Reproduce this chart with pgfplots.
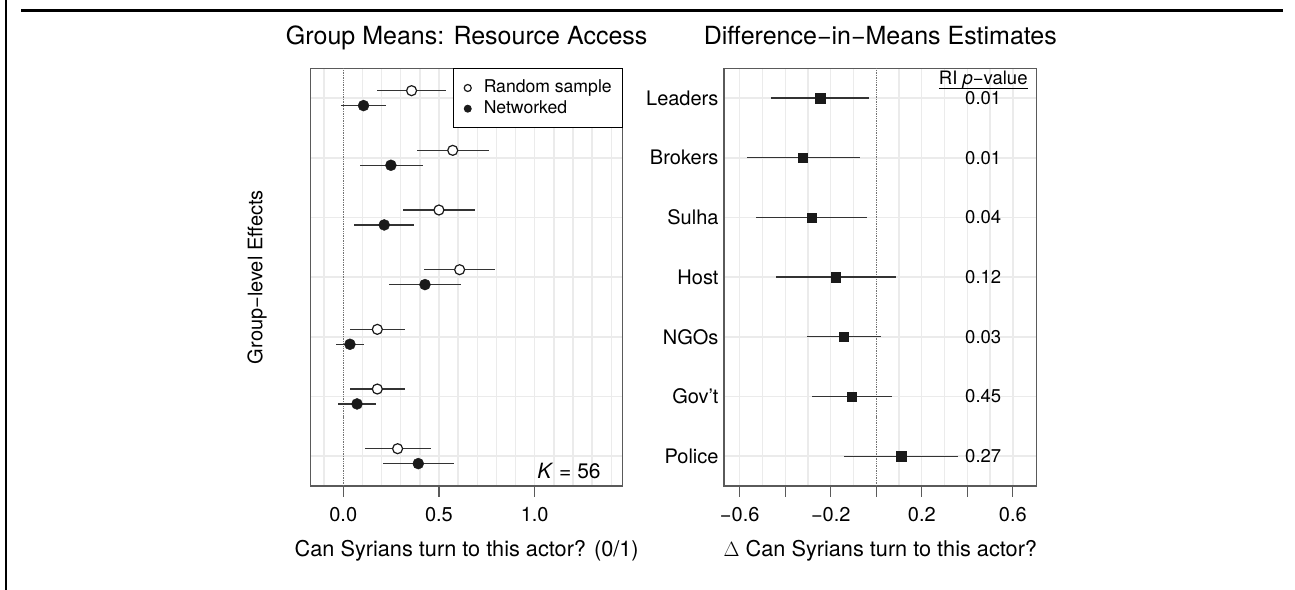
\documentclass[border=0pt]{standalone}
\usepackage{fontspec}
\setmainfont{TeX Gyre Heros}
\usepackage{pgfplots}
\pgfplotsset{compat=1.18}
\usepackage{pgfplotstable}

\definecolor{gridc}{HTML}{EBEBEB}
\definecolor{framec}{HTML}{5A5A5A}
\definecolor{barc}{HTML}{333333}
\definecolor{ptc}{HTML}{1A1A1A}

\pgfplotstableread{
y m lo hi
7.125 0.357 0.178 0.537
6.125 0.572 0.383 0.760
5.125 0.500 0.310 0.690
4.125 0.608 0.422 0.793
3.125 0.178 0.033 0.324
2.125 0.178 0.033 0.324
1.125 0.284 0.115 0.457
}\randtab
\pgfplotstableread{
y m lo hi
6.875 0.106 -0.010 0.225
5.875 0.249 0.086 0.415
4.875 0.214 0.058 0.371
3.875 0.427 0.241 0.617
2.875 0.035 -0.036 0.106
1.875 0.072 -0.026 0.171
0.875 0.392 0.207 0.579
}\nettab
\pgfplotstableread{
y m lo hi px p
7 -0.247 -0.464 -0.033 0.47 0.01
6 -0.324 -0.569 -0.072 0.47 0.01
5 -0.284 -0.529 -0.041 0.47 0.04
4 -0.177 -0.441 0.085 0.47 0.12
3 -0.143 -0.303 0.019 0.47 0.03
2 -0.107 -0.281 0.069 0.47 0.45
1 0.109 -0.143 0.360 0.47 0.27
}\difftab

\newcommand{\fs}[1]{\fontsize{#1bp}{#1bp}\selectfont}

\pgfplotsset{
  common/.style={
    anchor=south west, scale only axis, height=417.7bp,
    ymin=0.5, ymax=7.5,
    axis line style={framec, line width=1.3bp},
    tick align=outside, xtick pos=bottom, ytick pos=left,
    major tick length=11bp, minor tick length=0pt,
    xtick style={framec, line width=1.3bp},
    ytick style={draw=none},
    xminorgrids, ymajorgrids,
    minor grid style={gridc, line width=1.4bp},
    major grid style={gridc, line width=1.4bp},
    ytick={1,2,3,4,5,6,7},
    xticklabel style={font=\fs{20}, yshift=-7bp},
    yticklabel style={font=\fs{20}},
    extra x ticks={0}, extra x tick labels={},
    extra x tick style={grid=major, major grid style={black!55, densely dotted, line width=0.9bp}, tick style={draw=none}},
    title style={at={(axis description cs:0.5,1)}, anchor=base, yshift=18.3bp, font=\fs{25}},
    xlabel style={at={(axis description cs:0.5,0)}, anchor=base, yshift=-71bp, font=\fs{21.7}},
    clip=false,
  },
  ebar/.style={only marks, mark=none, forget plot,
    error bars/.cd, x dir=both, x explicit, error mark=none,
    error bar style={barc, line width=1.3bp}},
}

\begin{document}
\begin{tikzpicture}[x=1bp,y=1bp]
\draw[line width=2.3bp] (6,0) -- (6,590);
\draw[line width=2.5bp] (21,579.7) -- (1282.7,579.7);

\begin{axis}[common,
  at={(310.7bp,104bp)}, width=312bp,
  xmin=-0.17, xmax=1.46,
  xtick={0,0.5,1}, xticklabels={0.0,0.5,1.0},
  minor xtick={-0.1,0.1,0.2,0.3,0.4,0.5,0.6,0.7,0.8,0.9,1.0,1.1,1.2,1.3,1.4},
  yticklabels={},
  title={Group Means: Resource Access},
  xlabel={Can Syrians turn to this actor? (0/1)},
  ylabel={Group−level Effects},
  ylabel style={at={(axis description cs:-0.172,0.5)}, anchor=center, font=\fs{20}},
  legend style={at={(1,1)}, anchor=north east, draw=black, line width=1bp,
    font=\fs{17.6}, inner xsep=10.5bp, inner ysep=11bp, row sep=4.3bp,
    nodes={inner sep=0pt, text height=12.7bp, text depth=3.7bp}},
  legend cell align=left,
  legend image code/.code={\draw[#1, mark size=3.5bp, line width=0.9bp] plot coordinates {(0bp,0bp)};
    \path[draw=none, fill=none] (-3.5bp,0bp) rectangle (16bp,0.1bp);},
]
\addplot[ebar] table[x=m, y=y, x error plus expr=\thisrow{hi}-\thisrow{m}, x error minus expr=\thisrow{m}-\thisrow{lo}] \randtab;
\addplot[ebar] table[x=m, y=y, x error plus expr=\thisrow{hi}-\thisrow{m}, x error minus expr=\thisrow{m}-\thisrow{lo}] \nettab;
\addplot[only marks, mark=*, mark size=5bp, mark options={fill=white, draw=ptc, line width=1.2bp}] table[x=m, y=y] \randtab;
\addlegendentry{Random sample}
\addplot[only marks, mark=*, mark size=5.5bp, mark options={fill=ptc, draw=ptc}] table[x=m, y=y] \nettab;
\addlegendentry{Networked}
\node[anchor=base east, font=\fs{21}] at (axis cs:1.363,0.626) {\textit{K} = 56};
\end{axis}

\begin{axis}[common,
  at={(724bp,104bp)}, width=312.7bp,
  xmin=-0.669, xmax=0.705,
  xtick={-0.6,-0.4,-0.2,0,0.2,0.4,0.6}, xticklabels={−0.6,,−0.2,,0.2,,0.6},
  minor xtick={-0.6,-0.5,-0.4,-0.3,-0.2,-0.1,0.1,0.2,0.3,0.4,0.5,0.6},
  yticklabels={Police,Gov’t,NGOs,Host,Sulha,Brokers,Leaders},
  yticklabel style={xshift=9bp},
  title={Difference−in−Means Estimates},
  xlabel={$\Delta$ Can Syrians turn to this actor?},
]
\addplot[ebar] table[x=m, y=y, x error plus expr=\thisrow{hi}-\thisrow{m}, x error minus expr=\thisrow{m}-\thisrow{lo}] \difftab;
\addplot[only marks, mark=square*, mark size=4.7bp, mark options={fill=ptc, draw=ptc}] table[x=m, y=y] \difftab;
\addplot[only marks, mark=none, nodes near coords, point meta=explicit symbolic,
  nodes near coords style={anchor=center, font=\fs{18.5}, text=black}] table[x=px, y=y, meta=p] \difftab;
\node[anchor=base, font=\fs{18.5}, inner sep=0pt] (hdr) at (axis cs:0.47,7.223) {RI \textit{p}−value};
\draw[line width=1bp] ([yshift=-3.3bp]hdr.base west) -- ([yshift=-3.3bp]hdr.base east);
\end{axis}
\pgfresetboundingbox
\path[use as bounding box] (0,0) rectangle (1295,590);
\end{tikzpicture}
\end{document}
